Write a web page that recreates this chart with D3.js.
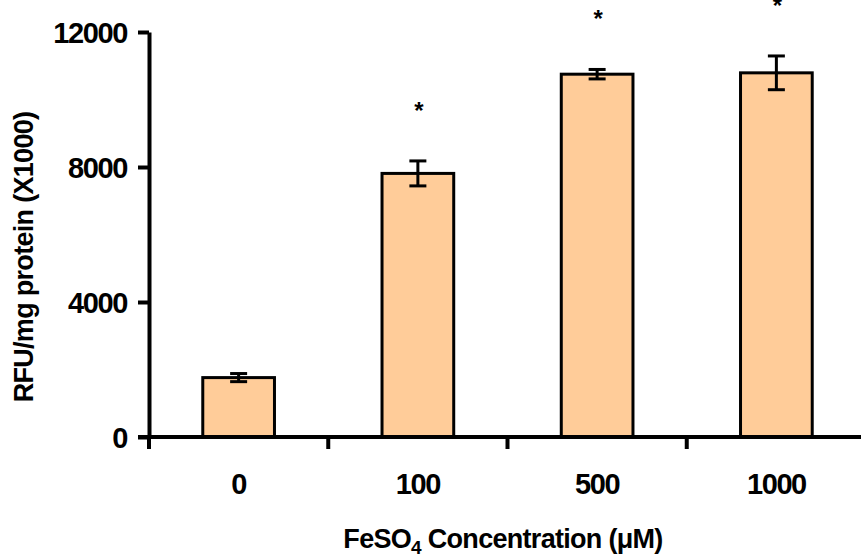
<!DOCTYPE html>
<html>
<head>
<meta charset="utf-8">
<script src="https://cdn.jsdelivr.net/npm/d3@7"></script>
<style>
  body { margin: 0; background: #fff; }
  svg { display: block; }
  text { font-family: "Liberation Sans", Arial, Helvetica, sans-serif; font-weight: bold; fill: #000; }
</style>
</head>
<body>
<svg id="chart" width="861" height="559"></svg>
<script>
// FeSO4 dose response: fluorescence per mg protein (x1000), mean ± error
const categories = ["0", "100", "500", "1000"];
const means = [1760, 7810, 10750, 10790];
const errors = [120, 370, 140, 500];
const significant = [false, true, true, true];
const yTicks = [0, 4000, 8000, 12000];

const svg = d3.select("#chart");
const x0 = 149, xEnd = 866, yBase = 437, yTop = 32;

const x = d3.scaleBand().domain(categories).range([x0, xEnd]).padding(0);
const y = d3.scaleLinear().domain([0, 12000]).range([yBase, yTop]);

const barW = x.bandwidth() * 0.4;
const rows = categories.map((c, i) => ({ c, m: means[i], e: errors[i], sig: significant[i] }));

// bars
svg.append("g").selectAll("rect").data(rows).join("rect")
  .attr("x", d => x(d.c) + (x.bandwidth() - barW) / 2)
  .attr("y", d => y(d.m))
  .attr("width", barW)
  .attr("height", d => y(0) - y(d.m))
  .attr("fill", "#FFCC99")
  .attr("stroke", "#000")
  .attr("stroke-width", 3);

// error bars
const cap = 8.5;
const eb = svg.append("g").attr("stroke", "#000").attr("stroke-width", 3);
rows.forEach(d => {
  const cx = x(d.c) + x.bandwidth() / 2;
  eb.append("line").attr("x1", cx).attr("x2", cx).attr("y1", y(d.m + d.e)).attr("y2", y(d.m - d.e));
  eb.append("line").attr("x1", cx - cap).attr("x2", cx + cap).attr("y1", y(d.m + d.e)).attr("y2", y(d.m + d.e));
  eb.append("line").attr("x1", cx - cap).attr("x2", cx + cap).attr("y1", y(d.m - d.e)).attr("y2", y(d.m - d.e));
});

// significance marks
svg.append("g").selectAll("text").data(rows.filter(d => d.sig)).join("text")
  .attr("x", d => x(d.c) + x.bandwidth() / 2 + 1)
  .attr("y", d => y(d.m + d.e) - 42)
  .attr("text-anchor", "middle")
  .style("font-size", "24px")
  .text("*");

// y axis
const yAxis = svg.append("g").attr("transform", `translate(${x0},0)`)
  .call(d3.axisLeft(y).tickValues(yTicks).tickSize(11).tickSizeOuter(0).tickPadding(11).tickFormat(d3.format("d")));
yAxis.select(".domain").attr("stroke", "#000").attr("stroke-width", 4);
yAxis.selectAll(".tick line").attr("stroke", "#000").attr("stroke-width", 4);
yAxis.selectAll(".tick text")
  .style("font-size", "29px").style("letter-spacing", "-1.4px")
  .attr("dy", "0.35em");

// x axis baseline and boundary ticks
const xAxis = svg.append("g");
xAxis.append("line")
  .attr("x1", x0 - 11).attr("x2", 861)
  .attr("y1", y(0)).attr("y2", y(0))
  .attr("stroke", "#000").attr("stroke-width", 4);
const bounds = categories.map(c => x(c)).concat([x.range()[1]]);
xAxis.selectAll("line.b").data(bounds).join("line").attr("class", "b")
  .attr("x1", d => d).attr("x2", d => d)
  .attr("y1", y(0) - 2).attr("y2", y(0) + 12)
  .attr("stroke", "#000").attr("stroke-width", 4);

// category labels
const xLab = svg.append("g").attr("transform", `translate(0,${y(0)})`)
  .call(d3.axisBottom(x).tickSize(0).tickPadding(0));
xLab.select(".domain").remove();
xLab.selectAll(".tick text")
  .attr("y", 57).attr("dy", 0)
  .style("font-size", "29px").style("letter-spacing", "-1.4px");

// axis titles
const xt = svg.append("text")
  .attr("x", 503).attr("y", 548)
  .attr("text-anchor", "middle")
  .style("font-size", "27px").style("letter-spacing", "-0.7px");
xt.append("tspan").text("FeSO");
xt.append("tspan").attr("dy", 6).style("font-size", "19px").text("4");
xt.append("tspan").attr("dy", -6).text(" Concentration (\u03BCM)");

svg.append("text")
  .attr("transform", "translate(33,257) rotate(-90)")
  .attr("text-anchor", "middle")
  .style("font-size", "27px").style("letter-spacing", "-0.7px")
  .text("RFU/mg protein (X1000)");
</script>
</body>
</html>
